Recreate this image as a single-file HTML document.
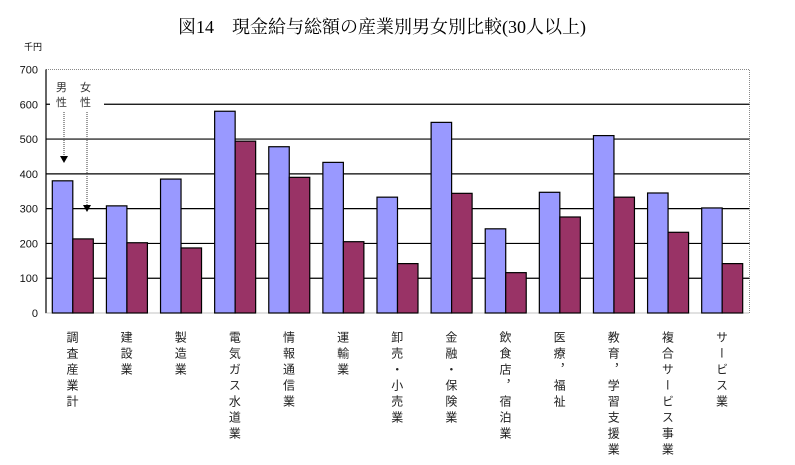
<!DOCTYPE html>
<html><head><meta charset="utf-8">
<style>
body{margin:0;background:#fff;width:795px;height:460px;overflow:hidden;}
svg text{font-family:"Liberation Sans","Noto Sans CJK JP",sans-serif;}
</style></head>
<body>
<svg id="chart" width="795" height="460" xmlns="http://www.w3.org/2000/svg">
<text x="382" y="33" text-anchor="middle" font-size="18" style="font-family:'Liberation Serif','Noto Serif CJK SC',serif">図14　現金給与総額の産業別男女別比較(30人以上)</text>
<text x="24" y="50" font-size="9">千円</text>
<g id="grid"></g><g id="bars"></g><g id="labels"></g>
</svg>
<script>
const categories=["調査産業計","建設業","製造業","電気ガス水道業","情報通信業","運輸業","卸売・小売業","金融・保険業","飲食店，宿泊業","医療，福祉","教育，学習支援業","複合サービス事業","サービス業"];
const maleValues=[380,308,385,580,478,433,333,548,242,347,510,345,302];
const femaleValues=[213,202,187,494,390,205,142,344,116,276,333,232,142];
const yTicks=[0,100,200,300,400,500,600,700];
const NS="http://www.w3.org/2000/svg";
const L=46,R=749.5,T=69.5,B=313,YMAX=700;
const y=v=>B-(v/YMAX)*(B-T);
const cw=(R-L)/categories.length;
const x=i=>L+i*cw;
function mk(tag,attrs,parent){const e=document.createElementNS(NS,tag);for(const k in attrs)e.setAttribute(k,attrs[k]);parent.appendChild(e);return e;}
const svg=document.getElementById('chart');
const grid=document.getElementById('grid'),bars=document.getElementById('bars'),labels=document.getElementById('labels');
const frame=mk('rect',{x:L,y:T,width:R-L,height:B-T,fill:'none',stroke:'#888','stroke-dasharray':'1,1'},grid);


yTicks.forEach(t=>{
  if(t>0&&t<700){const g=mk('line',{x1:L,x2:R,y1:y(t),y2:y(t),stroke:'#000','stroke-width':1.2},grid);
  
  }
  const tx=mk('text',{x:38,y:y(t)+4,'text-anchor':'end','font-size':11,fill:'#111'},grid);
  tx.textContent=t;
  
  
});
const ax=mk('line',{x1:L,x2:L,y1:T,y2:B,stroke:'#000','stroke-width':1.2},grid);


const bw=20.5,off=6.3;
categories.forEach((c,i)=>{
  const m=mk('rect',{x:x(i)+off,y:y(maleValues[i]),width:bw,height:B-y(maleValues[i]),fill:'#9999ff',stroke:'#000','stroke-width':1.2},bars);
  
  
  const f=mk('rect',{x:x(i)+off+bw,y:y(femaleValues[i]),width:bw,height:B-y(femaleValues[i]),fill:'#993366',stroke:'#000','stroke-width':1.2},bars);
  
  
  const t=mk('text',{x:x(i)+cw/2-1,y:331,'font-size':12,fill:'#222',style:'writing-mode:vertical-rl;letter-spacing:4px'},labels);
  t.textContent=c;
  
  
});
// annotation
const ann=mk('g',{},svg);


mk('rect',{x:50,y:78,width:54,height:30,fill:'#fff'},ann);
const tm=mk('text',{x:56,y:91,'font-size':11,fill:'#333'},ann);tm.textContent='男';
const tm2=mk('text',{x:56,y:106,'font-size':11,fill:'#333'},ann);tm2.textContent='性';
const tf=mk('text',{x:80,y:91,'font-size':11,fill:'#333'},ann);tf.textContent='女';
const tf2=mk('text',{x:80,y:106,'font-size':11,fill:'#333'},ann);tf2.textContent='性';
mk('line',{x1:64,x2:64,y1:112,y2:157,stroke:'#666','stroke-width':1.3,'stroke-dasharray':'1,1'},ann);
mk('polygon',{points:'60,156 68,156 64,163',fill:'#000'},ann);
mk('line',{x1:87,x2:87,y1:112,y2:205,stroke:'#666','stroke-width':1.3,'stroke-dasharray':'1,1'},ann);
mk('polygon',{points:'83,205 91,205 87,212',fill:'#000'},ann);
</script>
</body></html>
